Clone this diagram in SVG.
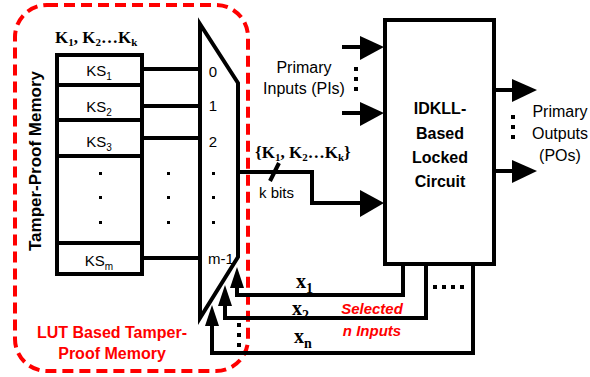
<svg xmlns="http://www.w3.org/2000/svg" width="590" height="377" viewBox="0 0 590 377">
<defs>
<style>
.ln{fill:none;stroke:#000;stroke-width:4;stroke-linejoin:miter}
.sans{font-family:"Liberation Sans",Arial,sans-serif;fill:#000}
.serif{font-family:"Liberation Serif","Times New Roman",serif;font-weight:bold;fill:#000}
.red{font-family:"Liberation Sans",Arial,sans-serif;font-weight:bold;fill:#f00}
.dot{fill:#000}
</style>
</defs>
<rect width="590" height="377" fill="#fff"/>

<g id="lut-boundary">
<rect x="15" y="5" width="233" height="366" rx="32" ry="32" fill="none" stroke="#f00" stroke-width="4" stroke-dasharray="11,6"/>
<text class="red" x="112" y="338" font-size="16" text-anchor="middle">LUT Based Tamper-</text>
<text class="red" x="112" y="359" font-size="16" text-anchor="middle">Proof Memory</text>
</g>

<g id="memory">
<text class="sans" font-weight="bold" font-size="17" text-anchor="middle" transform="translate(41,161) rotate(-90)">Tamper-Proof Memory</text>
<text class="serif" x="55" y="43" font-size="17">K<tspan font-size="11" dy="3">1</tspan><tspan dy="-3">, K</tspan><tspan font-size="11" dy="3">2</tspan><tspan dy="-3">…K</tspan><tspan font-size="11" dy="3">k</tspan></text>
<rect class="ln" x="57" y="55" width="85" height="219"/>
<line class="ln" x1="57" y1="85" x2="142" y2="85"/>
<line class="ln" x1="57" y1="120" x2="142" y2="120"/>
<line class="ln" x1="57" y1="156" x2="142" y2="156"/>
<line class="ln" x1="57" y1="243" x2="142" y2="243"/>
<text class="sans" x="99" y="76" font-size="15" text-anchor="middle">KS<tspan font-size="10" dy="4">1</tspan></text>
<text class="sans" x="99" y="112" font-size="15" text-anchor="middle">KS<tspan font-size="10" dy="4">2</tspan></text>
<text class="sans" x="99" y="147" font-size="15" text-anchor="middle">KS<tspan font-size="10" dy="4">3</tspan></text>
<text class="sans" x="99" y="266" font-size="15" text-anchor="middle">KS<tspan font-size="10" dy="4">m</tspan></text>
<rect class="dot" x="99" y="172" width="3" height="3"/>
<rect class="dot" x="99" y="196" width="3" height="3"/>
<rect class="dot" x="99" y="221" width="3" height="3"/>
<rect class="dot" x="167" y="172" width="3" height="3"/>
<rect class="dot" x="167" y="196" width="3" height="3"/>
<rect class="dot" x="167" y="221" width="3" height="3"/>
</g>

<g id="mux">
<polygon class="ln" points="200,24 238,83 238,257 200,318"/>
<text class="sans" x="213" y="77" font-size="15" text-anchor="middle">0</text>
<text class="sans" x="213" y="111" font-size="15" text-anchor="middle">1</text>
<text class="sans" x="213" y="147" font-size="15" text-anchor="middle">2</text>
<rect class="dot" x="212" y="172" width="3" height="3"/>
<rect class="dot" x="212" y="196" width="3" height="3"/>
<rect class="dot" x="212" y="221" width="3" height="3"/>
<text class="sans" x="208" y="264" font-size="15">m-1</text>
</g>

<g id="locked-circuit">
<rect class="ln" x="385" y="20" width="109" height="244"/>
<text class="sans" font-weight="bold" font-size="16" text-anchor="middle"><tspan x="440" y="114">IDKLL-</tspan><tspan x="440" y="139">Based</tspan><tspan x="440" y="163">Locked</tspan><tspan x="440" y="187">Circuit</tspan></text>
</g>

<g id="labels">
<text class="sans" font-size="16" text-anchor="middle"><tspan x="304" y="73">Primary</tspan><tspan x="304" y="94">Inputs (PIs)</tspan></text>
<text class="sans" font-size="16" text-anchor="middle"><tspan x="560" y="117">Primary</tspan><tspan x="560" y="139">Outputs</tspan><tspan x="560" y="161">(POs)</tspan></text>
<text class="serif" x="255" y="158" font-size="17">{K<tspan font-size="11" dy="3">1</tspan><tspan dy="-3">, K</tspan><tspan font-size="11" dy="3">2</tspan><tspan dy="-3">…K</tspan><tspan font-size="11" dy="3">k</tspan><tspan dy="-3">}</tspan></text>
<text class="sans" x="259" y="198" font-size="15">k bits</text>
<text class="serif" x="296" y="288" font-size="20">x<tspan font-size="14" dy="5">1</tspan></text>
<text class="serif" x="292" y="315" font-size="20">x<tspan font-size="14" dy="5">2</tspan></text>
<text class="serif" x="294" y="343" font-size="20">x<tspan font-size="14" dy="5">n</tspan></text>
<text class="red" font-style="italic" font-size="15" text-anchor="middle"><tspan x="372" y="314">Selected</tspan><tspan x="372" y="336">n Inputs</tspan></text>
</g>

<g id="connectors">
<line class="ln" x1="142" y1="69" x2="198" y2="69"/>
<line class="ln" x1="142" y1="106" x2="198" y2="106"/>
<line class="ln" x1="142" y1="138" x2="198" y2="138"/>
<line class="ln" x1="142" y1="258" x2="198" y2="258"/>
<polyline class="ln" points="238,172 312,172 312,203 362,203"/>
<polygon points="360,190 384,203 360,217"/>
<line class="ln" x1="270" y1="181" x2="279" y2="163"/>
<line class="ln" x1="342" y1="47" x2="362" y2="47"/>
<polygon points="360,36 384,47 360,60"/>
<line class="ln" x1="342" y1="113" x2="362" y2="113"/>
<polygon points="360,102 384,113 360,126"/>
<rect class="dot" x="354" y="67" width="4" height="4"/>
<rect class="dot" x="354" y="77" width="4" height="4"/>
<rect class="dot" x="354" y="87" width="4" height="4"/>
<line class="ln" x1="494" y1="90" x2="514" y2="90"/>
<polygon points="512,79 537,90 512,102"/>
<line class="ln" x1="494" y1="171" x2="514" y2="171"/>
<polygon points="512,160 537,171 512,183"/>
<rect class="dot" x="511" y="115" width="4" height="4"/>
<rect class="dot" x="511" y="125" width="4" height="4"/>
<rect class="dot" x="511" y="135" width="4" height="4"/>
<polyline class="ln" points="403,264 403,295 237,295 237,285"/>
<polygon points="237,267 230,288 244,288"/>
<polyline class="ln" points="426,264 426,318 225,318 225,303"/>
<polygon points="225,285 218,306 232,306"/>
<polyline class="ln" points="473,264 473,353 212,353 212,323"/>
<polygon points="212,305 205,326 219,326"/>
<rect class="dot" x="433" y="285" width="4" height="4"/>
<rect class="dot" x="442" y="285" width="4" height="4"/>
<rect class="dot" x="451" y="285" width="4" height="4"/>
<rect class="dot" x="460" y="285" width="4" height="4"/>
<rect class="dot" x="237" y="323" width="4" height="4"/>
<rect class="dot" x="237" y="333" width="4" height="4"/>
<rect class="dot" x="237" y="343" width="4" height="4"/>
</g>
</svg>
